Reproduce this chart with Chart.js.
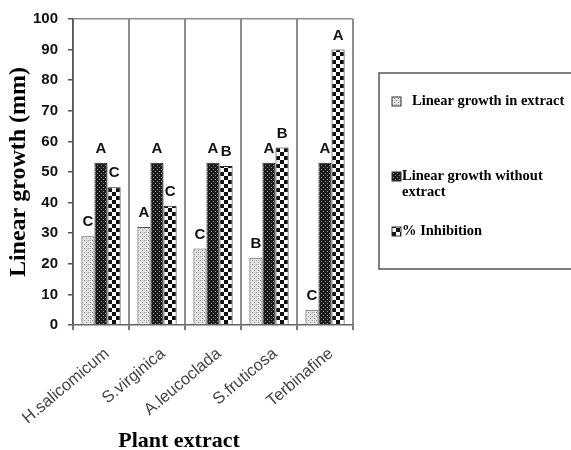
<!DOCTYPE html>
<html>
<head>
<meta charset="utf-8">
<script src="https://cdn.jsdelivr.net/npm/chart.js@4.4.0/dist/chart.umd.min.js"></script>
<style>
    html, body { margin: 0; padding: 0; background: #fff; }
</style>
</head>
<body>
<canvas id="grafico-barras" width="571" height="450"></canvas>
<script>
const categorias = ['H.salicomicum', 'S.virginica', 'A.leucoclada', 'S.fruticosa', 'Terbinafine'];
const crescimentoExtrato = [29, 32, 25, 22, 5];
const crescimentoSemExtrato = [53, 53, 53, 53, 53];
const inibicao = [45, 39, 52, 58, 90];
const letrasExtrato = ['C', 'A', 'C', 'B', 'C'];
const letrasSemExtrato = ['A', 'A', 'A', 'A', 'A'];
const letrasInibicao = ['C', 'C', 'B', 'B', 'A'];
const nomesSeries = ['Linear growth in extract', 'Linear growth without extract', '% Inhibition'];
const ticksY = [0, 10, 20, 30, 40, 50, 60, 70, 80, 90, 100];
const tituloX = 'Plant extract';

// pequenos padroes de preenchimento, como no grafico original
function padrao(tipo) {
    const c = document.createElement('canvas');
    const g = c.getContext('2d');
    if (tipo === 'pontos') {
        c.width = 4; c.height = 4;
        g.fillStyle = '#e2e2e2'; g.fillRect(0, 0, 4, 4);
        g.fillStyle = '#9a9a9a'; g.fillRect(0, 0, 1, 1); g.fillRect(2, 2, 1, 1);
        g.fillStyle = '#c4c4c4'; g.fillRect(2, 0, 1, 1);
    } else if (tipo === 'trama') {
        c.width = 4; c.height = 4;
        g.fillStyle = '#1c1c1c'; g.fillRect(0, 0, 4, 4);
        g.fillStyle = '#8c8c8c'; g.fillRect(1, 1, 1, 1); g.fillRect(3, 3, 1, 1);
    } else {
        c.width = 8; c.height = 8;
        g.fillStyle = '#fff'; g.fillRect(0, 0, 8, 8);
        g.fillStyle = '#111'; g.fillRect(0, 0, 4, 4); g.fillRect(4, 4, 4, 4);
    }
    return g.createPattern(c, 'repeat');
}

const preenchimentos = [padrao('pontos'), padrao('trama'), padrao('xadrez')];
const letras = [letrasExtrato, letrasSemExtrato, letrasInibicao];

const letrasPlugin = {
    id: 'letras',
    afterDatasetsDraw(chart) {
        const ctx = chart.ctx;
        ctx.save();
        ctx.font = 'bold 15px "Liberation Sans", Arial, sans-serif';
        ctx.fillStyle = '#111';
        ctx.textAlign = 'center';
        ctx.textBaseline = 'alphabetic';
        chart.data.datasets.forEach(function(ds, i) {
            chart.getDatasetMeta(i).data.forEach(function(bar, j) {
                ctx.fillText(letras[i][j], bar.x, bar.y - 10);
            });
        });
        ctx.restore();
    }
};

// legenda em caixa e titulo do eixo x, desenhados a mao
const legendaPlugin = {
    id: 'legendaCaixa',
    afterDraw(chart) {
        const ctx = chart.ctx;
        ctx.save();
        ctx.strokeStyle = '#555';
        ctx.lineWidth = 1.5;
        ctx.strokeRect(379, 73, 200, 196);
        ctx.font = 'bold 14.5px "Liberation Serif", "Times New Roman", serif';
        ctx.fillStyle = '#000';
        ctx.textBaseline = 'middle';
        const itens = [
            { y: 101, tx: 412, linhas: [nomesSeries[0]] },
            { y: 176, tx: 402, linhas: ['Linear growth without', 'extract'] },
            { y: 231, tx: 402, linhas: [nomesSeries[2]] }
        ];
        itens.forEach(function(it, i) {
            ctx.fillStyle = preenchimentos[i];
            ctx.fillRect(392, it.y - 4, 9, 9);
            ctx.strokeStyle = '#333';
            ctx.lineWidth = 1;
            ctx.strokeRect(392, it.y - 4, 9, 9);
            ctx.fillStyle = '#000';
            it.linhas.forEach(function(l, k) {
                ctx.fillText(l, it.tx, it.y + k * 16);
            });
        });

        ctx.font = 'bold 22px "Liberation Serif", "Times New Roman", serif';
        ctx.textAlign = 'center';
        ctx.textBaseline = 'alphabetic';
        ctx.fillText(tituloX, 179, 447);
        ctx.restore();
    }
};

const ctx = document.getElementById('grafico-barras').getContext('2d');
const MyChart = new Chart(ctx, {
    type: 'bar',
    data: {
        labels: categorias,
        datasets: [{
            label: nomesSeries[0],
            data: crescimentoExtrato,
            backgroundColor: preenchimentos[0],
            borderColor: '#555',
            borderWidth: 1
        }, {
            label: nomesSeries[1],
            data: crescimentoSemExtrato,
            backgroundColor: preenchimentos[1],
            borderColor: '#222',
            borderWidth: 1
        }, {
            label: nomesSeries[2],
            data: inibicao,
            backgroundColor: preenchimentos[2],
            borderColor: '#222',
            borderWidth: 1
        }]
    },
    options: {
        responsive: false,
        animation: false,
        categoryPercentage: 0.7,
        barPercentage: 1.0,
        layout: {
            padding: { left: 4, right: 218, top: 14, bottom: 0 }
        },
        plugins: {
            legend: { display: false },
            tooltip: { enabled: false }
        },
        scales: {
            x: {
                afterFit: function(scale) {
                    // o rotulo inclinado nao deve empurrar a area do grafico
                    scale.paddingLeft = 0;
                    scale.height = 125;
                },
                grid: {
                    offset: true,
                    color: '#8c8c8c',
                    lineWidth: 2,
                    tickLength: 5,
                    tickColor: '#777'
                },
                border: { color: '#666', width: 1.5 },
                ticks: {
                    maxRotation: 40,
                    minRotation: 40,
                    color: '#444',
                    padding: 14,
                    labelOffset: 6,
                    font: { family: '"Liberation Sans", Arial, sans-serif', size: 16.5 }
                }
            },
            y: {
                min: 0,
                max: 100,
                afterBuildTicks: function(scale) {
                    scale.ticks = ticksY.map(function(v) { return { value: v }; });
                },
                afterFit: function(scale) {
                    scale.width = 69;
                },
                grid: {
                    color: function(c) { return c.tick && c.tick.value === 100 ? '#8c8c8c' : 'rgba(0,0,0,0)'; },
                    lineWidth: 1.5,
                    tickLength: 5,
                    tickColor: '#555'
                },
                border: { color: '#555', width: 1.5 },
                ticks: {
                    color: '#111',
                    padding: 10,
                    font: { family: '"Liberation Sans", Arial, sans-serif', size: 15, weight: 'bold' }
                },
                title: {
                    display: true,
                    text: 'Linear growth (mm)',
                    color: '#000',
                    padding: { top: 0, bottom: 0 },
                    font: { family: '"Liberation Serif", "Times New Roman", serif', size: 24, weight: 'bold' }
                }
            }
        }
    },
    plugins: [letrasPlugin, legendaPlugin]
});
</script>
</body>
</html>
